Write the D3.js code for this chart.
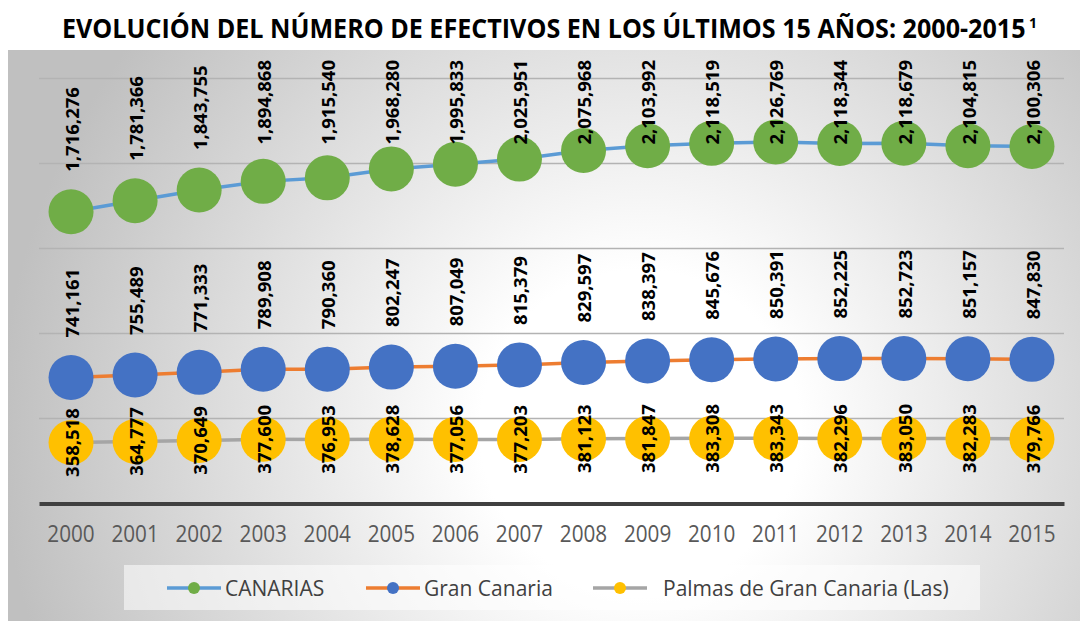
<!DOCTYPE html>
<html>
<head>
<meta charset="utf-8">
<script src="https://cdn.jsdelivr.net/npm/d3@7"></script>
<style>
  html, body { margin: 0; padding: 0; background: #ffffff; }
  svg { display: block; font-family: "Open Sans", "Noto Sans", sans-serif; }
</style>
</head>
<body>
<svg id="chart" width="1080" height="621"></svg>
<script>
// ---- data ----
const years = ["2000","2001","2002","2003","2004","2005","2006","2007","2008","2009","2010","2011","2012","2013","2014","2015"];
const canarias = [1716276, 1781366, 1843755, 1894868, 1915540, 1968280, 1995833, 2025951, 2075968, 2103992, 2118519, 2126769, 2118344, 2118679, 2104815, 2100306];
const granCanaria = [741161, 755489, 771333, 789908, 790360, 802247, 807049, 815379, 829597, 838397, 845676, 850391, 852225, 852723, 851157, 847830];
const palmas = [358518, 364777, 370649, 377600, 376953, 378628, 377056, 377203, 381123, 381847, 383308, 383343, 382296, 383050, 382283, 379766];
const seriesNames = ["CANARIAS", "Gran Canaria", "Palmas de Gran Canaria (Las)"];
const yTicks = [0, 500000, 1000000, 1500000, 2000000, 2500000];
const titleText = "EVOLUCIÓN DEL NÚMERO DE EFECTIVOS EN LOS ÚLTIMOS 15 AÑOS: 2000-2015";
const titleSup = "1";

const series = [
  { name: seriesNames[0], values: canarias, line: "#5B9BD5", marker: "#70AD47", label: "aboveClamp" },
  { name: seriesNames[1], values: granCanaria, line: "#ED7D31", marker: "#4472C4", label: "above" },
  { name: seriesNames[2], values: palmas, line: "#A5A5A5", marker: "#FFC000", label: "center" }
];

const svg = d3.select("#chart");
const fmt = d3.format(",");

// ---- background ----
const defs = svg.append("defs");
const grad = defs.append("radialGradient")
  .attr("id", "bg").attr("gradientUnits", "userSpaceOnUse")
  .attr("cx", 640).attr("cy", 430).attr("r", 640);
grad.append("stop").attr("offset", 0).attr("stop-color", "#ffffff");
grad.append("stop").attr("offset", 0.25).attr("stop-color", "#ffffff");
grad.append("stop").attr("offset", 1).attr("stop-color", "#c0c0c0");

svg.append("rect").attr("x", 8).attr("y", 50).attr("width", 1072).attr("height", 571)
  .attr("fill", "url(#bg)");

// ---- title (horizontally condensed via scale) ----
const titleEl = svg.append("text")
  .attr("x", 0).attr("y", 0)
  .attr("font-size", 26).attr("font-weight", 700).attr("fill", "#000")
  .text(titleText);
const titleW = titleEl.node().getComputedTextLength();
const titleTarget = 964;
titleEl.attr("transform", `translate(62,38) scale(${titleTarget / titleW},1)`);
svg.append("text")
  .attr("x", 62 + titleTarget + 3).attr("y", 28)
  .attr("font-size", 14).attr("font-weight", 700).attr("fill", "#000")
  .text(titleSup);

// ---- scales ----
const x = d3.scaleBand().domain(years).range([39, 1064]);
const y = d3.scaleLinear().domain([0, 2500000]).range([503.5, 78.5]);
const cx = d => x(d) + x.bandwidth() / 2;

// gridlines
svg.append("g").selectAll("line").data(yTicks.slice(1)).join("line")
  .attr("x1", 39).attr("x2", 1064)
  .attr("y1", d => y(d)).attr("y2", d => y(d))
  .attr("stroke", "#b3b3b3").attr("stroke-width", 1.5);

// x axis
const xAxis = svg.append("g").attr("transform", `translate(0,${y(0)})`)
  .call(d3.axisBottom(x).tickSize(0).tickPadding(22));
xAxis.select(".domain").attr("stroke", "#404040").attr("stroke-width", 4);
xAxis.selectAll("text").attr("font-size", 23).attr("fill", "#595959")
  .attr("font-family", "'Open Sans', sans-serif")
  .attr("transform", "scale(0.9,1)");

// ---- series ----
const line = d3.line().x((d, i) => cx(years[i])).y(d => y(d));

series.forEach(s => {
  svg.append("path").datum(s.values)
    .attr("d", line).attr("fill", "none")
    .attr("stroke", s.line).attr("stroke-width", 3.5);
  svg.append("g").selectAll("circle").data(s.values).join("circle")
    .attr("cx", (d, i) => cx(years[i])).attr("cy", d => y(d))
    .attr("r", 22.5).attr("fill", s.marker);
});

// ---- labels ----
series.forEach(s => {
  const g = svg.append("g");
  s.values.forEach((v, i) => {
    const px = cx(years[i]) + 1;
    const py = y(v);
    const t = g.append("text")
      .attr("font-size", 18.5).attr("font-weight", 700).attr("fill", "#000")
      .attr("dy", "0.36em")
      .text(fmt(v));
    const L = t.node().getComputedTextLength();
    let bottom;
    if (s.label === "center") {
      t.attr("text-anchor", "middle");
      t.attr("transform", `translate(${px},${py}) rotate(-90)`);
      return;
    } else if (s.label === "above") {
      bottom = py - 40;
    } else {
      bottom = Math.max(py - 40, 60 + L);
    }
    t.attr("text-anchor", "start")
      .attr("transform", `translate(${px},${bottom}) rotate(-90)`);
  });
});

// ---- legend ----
svg.append("rect").attr("x", 124).attr("y", 565).attr("width", 856).attr("height", 45)
  .attr("fill", "#ffffff").attr("fill-opacity", 0.55);
const legendX = [167, 366, 593];
const leg = svg.append("g").selectAll("g").data(series).join("g")
  .attr("transform", (d, i) => `translate(${legendX[i]},588)`);
leg.append("line").attr("x1", 0).attr("x2", 54).attr("y1", 0).attr("y2", 0)
  .attr("stroke", d => d.line).attr("stroke-width", 3.5);
leg.append("circle").attr("cx", 27).attr("cy", 0).attr("r", 6).attr("fill", d => d.marker);
leg.append("text").attr("x", (d, i) => i === 2 ? 70 : 58).attr("y", 7.5)
  .attr("font-size", 21).attr("fill", "#404040")
  .text(d => d.name);
</script>
</body>
</html>
